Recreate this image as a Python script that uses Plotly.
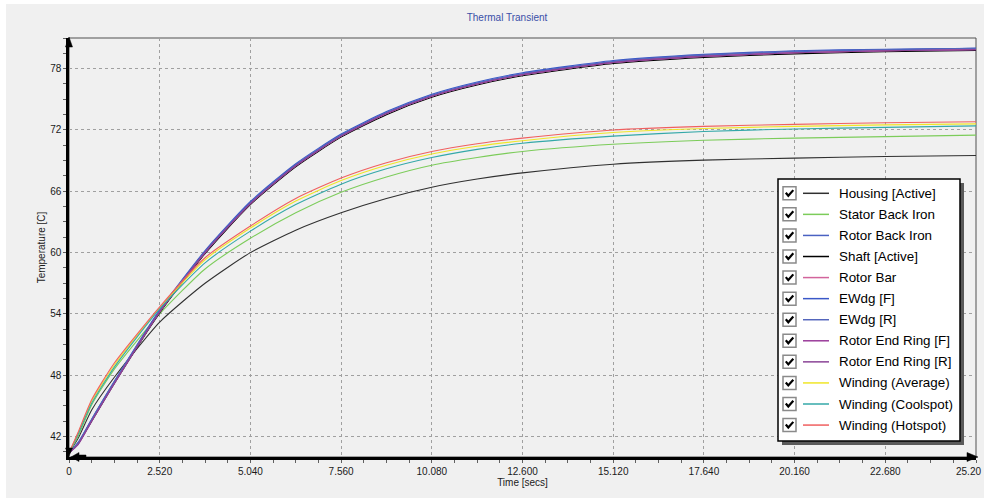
import plotly.graph_objects as go

# ---------------- data ----------------
time_s = [0, 0.25, 0.63, 1.26, 2.52, 3.78, 5.04, 6.30, 7.56, 8.82, 10.08, 11.34, 12.60, 15.12, 17.64, 20.16, 22.68, 25.20]

housing_active   = [40.4, 41.8, 44.6, 47.8, 53.2, 57.0, 60.0, 62.2, 63.9, 65.3, 66.4, 67.2, 67.8, 68.65, 69.05, 69.25, 69.4, 69.5]
stator_back_iron = [40.4, 42.0, 45.1, 48.6, 54.0, 58.4, 61.4, 63.9, 65.9, 67.4, 68.55, 69.3, 69.9, 70.6, 71.0, 71.2, 71.35, 71.5]
rotor_back_iron  = [40.4, 41.3, 43.6, 47.3, 54.3, 60.1, 64.9, 68.6, 71.5, 73.7, 75.4, 76.6, 77.5, 78.7, 79.3, 79.65, 79.85, 79.98]
shaft_active     = [40.4, 41.3, 43.5, 47.2, 54.1, 59.9, 64.7, 68.4, 71.3, 73.5, 75.2, 76.4, 77.3, 78.5, 79.1, 79.45, 79.65, 79.78]
rotor_bar        = [40.4, 41.3, 43.6, 47.3, 54.2, 60.0, 64.8, 68.5, 71.4, 73.6, 75.3, 76.5, 77.4, 78.6, 79.2, 79.55, 79.75, 79.88]
ewdg_f           = [40.4, 41.4, 43.7, 47.4, 54.4, 60.2, 65.0, 68.7, 71.6, 73.8, 75.5, 76.7, 77.6, 78.8, 79.4, 79.75, 79.9, 80.0]
ewdg_r           = [40.4, 41.4, 43.7, 47.4, 54.3, 60.1, 64.9, 68.6, 71.5, 73.7, 75.4, 76.6, 77.5, 78.7, 79.35, 79.7, 79.88, 79.98]
rotor_end_ring_f = [40.4, 41.2, 43.5, 47.2, 54.2, 60.0, 64.8, 68.5, 71.4, 73.6, 75.3, 76.5, 77.4, 78.6, 79.2, 79.55, 79.75, 79.85]
rotor_end_ring_r = [40.4, 41.2, 43.5, 47.2, 54.2, 60.0, 64.8, 68.5, 71.4, 73.6, 75.3, 76.5, 77.4, 78.6, 79.2, 79.55, 79.75, 79.85]
winding_average  = [40.4, 42.3, 45.45, 49.0, 54.6, 59.3, 62.4, 65.05, 67.05, 68.55, 69.65, 70.4, 70.95, 71.75, 72.15, 72.35, 72.5, 72.6]
winding_coolspot = [40.4, 42.2, 45.25, 48.8, 54.5, 59.0, 62.1, 64.7, 66.7, 68.2, 69.3, 70.1, 70.7, 71.4, 71.85, 72.1, 72.25, 72.4]
winding_hotspot  = [40.4, 42.4, 45.6, 49.2, 54.7, 59.5, 62.6, 65.3, 67.3, 68.8, 69.9, 70.65, 71.2, 72.0, 72.35, 72.55, 72.7, 72.8]

series_names = ["Housing [Active]", "Stator Back Iron", "Rotor Back Iron", "Shaft [Active]",
                "Rotor Bar", "EWdg [F]", "EWdg [R]", "Rotor End Ring [F]", "Rotor End Ring [R]",
                "Winding (Average)", "Winding (Coolspot)", "Winding (Hotspot)"]
series_values = [housing_active, stator_back_iron, rotor_back_iron, shaft_active, rotor_bar,
                 ewdg_f, ewdg_r, rotor_end_ring_f, rotor_end_ring_r,
                 winding_average, winding_coolspot, winding_hotspot]
series_colors = ["#303030", "#7ccc5a", "#4a62c2", "#000000", "#d2649c", "#3a58c8",
                 "#5466bc", "#9a3c9a", "#8a4496", "#f0e628", "#34a8a8", "#f06060"]

x_tick_vals = [0, 2.52, 5.04, 7.56, 10.08, 12.60, 15.12, 17.64, 20.16, 22.68, 25.20]
x_tick_text = ["0", "2.520", "5.040", "7.560", "10.080", "12.600", "15.120", "17.640", "20.160", "22.680", "25.20"]
y_tick_vals = [42, 48, 54, 60, 66, 72, 78]

title_text = "Thermal Transient"
x_title = "Time [secs]"
y_title = "Temperature [C]"

# ---------------- layout geometry ----------------
W, H = 984, 498
L, R, T, B = 69, 8, 38, 41
PW, PH = W - L - R, H - T - B
FONT = "Liberation Sans, Arial, sans-serif"


def px(x):
    return (x - L) / PW


def py(y):
    return (H - B - y) / PH


fig = go.Figure()
for name, vals, col in zip(series_names, series_values, series_colors):
    fig.add_trace(go.Scatter(x=time_s, y=vals, mode="lines", name=name,
                             line=dict(color=col, width=1.1, shape="spline", smoothing=0.6),
                             showlegend=False))

shapes = []
# white screenshot margins
shapes.append(dict(type="rect", xref="paper", yref="paper", x0=px(0), x1=px(6), y0=py(H), y1=py(0),
                   fillcolor="white", line=dict(width=0), layer="above"))
shapes.append(dict(type="rect", xref="paper", yref="paper", x0=px(0), x1=px(W), y0=py(4), y1=py(0),
                   fillcolor="white", line=dict(width=0), layer="above"))
# plot frame (top/right thin)
shapes.append(dict(type="rect", xref="paper", yref="paper", x0=0, x1=1, y0=0, y1=1,
                   line=dict(color="#505050", width=1), layer="below"))


def poly(points, color="black"):
    path = "M " + " L ".join(f"{px(a):.5f},{py(b):.5f}" for a, b in points) + " Z"
    return dict(type="path", xref="paper", yref="paper", path=path,
                fillcolor=color, line=dict(color=color, width=0.5), layer="above")


# axis arrows
shapes.append(poly([(65.5, 47), (72.5, 47), (69, 37)]))
shapes.append(poly([(65.5, 448), (72.5, 448), (69, 456)]))
shapes.append(poly([(71, 457), (79, 452.5), (79, 461.5)]))
shapes.append(poly([(79, 455), (86, 455), (86, 459), (79, 459)]))
shapes.append(poly([(978, 457), (967, 452.5), (967, 461.5)]))

# legend box with shadow
lg_x0, lg_x1, lg_y0, lg_y1 = 778, 960, 179, 441
shapes.append(dict(type="rect", xref="paper", yref="paper", x0=px(lg_x0 + 4), x1=px(lg_x1 + 4),
                   y0=py(lg_y1 + 4), y1=py(lg_y0 + 4), fillcolor="#5a5a5a", line=dict(width=0), layer="above"))
shapes.append(dict(type="rect", xref="paper", yref="paper", x0=px(lg_x0), x1=px(lg_x1),
                   y0=py(lg_y1), y1=py(lg_y0), fillcolor="white", line=dict(color="black", width=1.5),
                   layer="above"))

annotations = []
row0, row_h = 193.3, 21.07
for i, (name, col) in enumerate(zip(series_names, series_colors)):
    yc = row0 + i * row_h
    # checkbox
    shapes.append(dict(type="rect", xref="paper", yref="paper", x0=px(783), x1=px(796),
                       y0=py(yc + 6.5), y1=py(yc - 6.5), fillcolor="white",
                       line=dict(color="#8a8a8a", width=1.5), layer="above"))
    ck = [(785.8, yc - 0.5), (788.3, yc + 2.5), (793.3, yc - 3.2)]
    shapes.append(dict(type="path", xref="paper", yref="paper",
                       path="M " + " L ".join(f"{px(a):.5f},{py(b):.5f}" for a, b in ck),
                       line=dict(color="black", width=2.2), layer="above"))
    # swatch
    shapes.append(dict(type="line", xref="paper", yref="paper", x0=px(803), x1=px(829),
                       y0=py(yc), y1=py(yc), line=dict(color=col, width=1.5), layer="above"))
    annotations.append(dict(xref="paper", yref="paper", x=px(837), y=py(yc), text=name,
                            showarrow=False, xanchor="left", yanchor="middle",
                            font=dict(family=FONT, size=13.4, color="black")))

# last x tick label kept inside the page edge
annotations.append(dict(xref="paper", yref="paper", x=px(983), y=py(471), text=x_tick_text[-1],
                        showarrow=False, xanchor="right", yanchor="middle",
                        font=dict(family=FONT, size=10, color="#1a1a1a")))
shown_tick_text = x_tick_text[:-1] + [""]

grid = dict(showgrid=True, gridcolor="#a0a0a0", gridwidth=1, griddash="3px,3px",
            showline=True, linecolor="black", linewidth=2.5, ticks="outside", ticklen=3,
            tickcolor="#606060", tickfont=dict(family=FONT, size=10, color="#1a1a1a"),
            zeroline=False)

fig.update_layout(
    width=W, height=H,
    margin=dict(l=L, r=R, t=T, b=B, autoexpand=False),
    paper_bgcolor="#f0f0f0", plot_bgcolor="#f0f0f0",
    title=dict(text=title_text, x=507 / W, xref="container", xanchor="center",
               y=1 - 17 / H, yref="container", yanchor="middle",
               font=dict(family=FONT, size=10, color="#3a4fa8")),
    xaxis=dict(range=[0, 25.2001], tickvals=x_tick_vals, ticktext=shown_tick_text,
               minor=dict(dtick=0.63, ticks="outside", ticklen=3, tickcolor="#606060", showgrid=False),
               title=dict(text=x_title, font=dict(family=FONT, size=10, color="#1a1a1a"), standoff=3),
               **grid),
    yaxis=dict(range=[40, 81], tickvals=y_tick_vals,
               minor=dict(dtick=1.5, tick0=42, ticks="outside", ticklen=3, tickcolor="#606060", showgrid=False),
               title=dict(text=y_title, font=dict(family=FONT, size=10, color="#1a1a1a"), standoff=3),
               **grid),
    shapes=shapes, annotations=annotations,
)

fig.write_html("out.html", config={"displayModeBar": False},
               post_script="document.body.style.margin='0px';document.body.style.overflow='hidden';")
